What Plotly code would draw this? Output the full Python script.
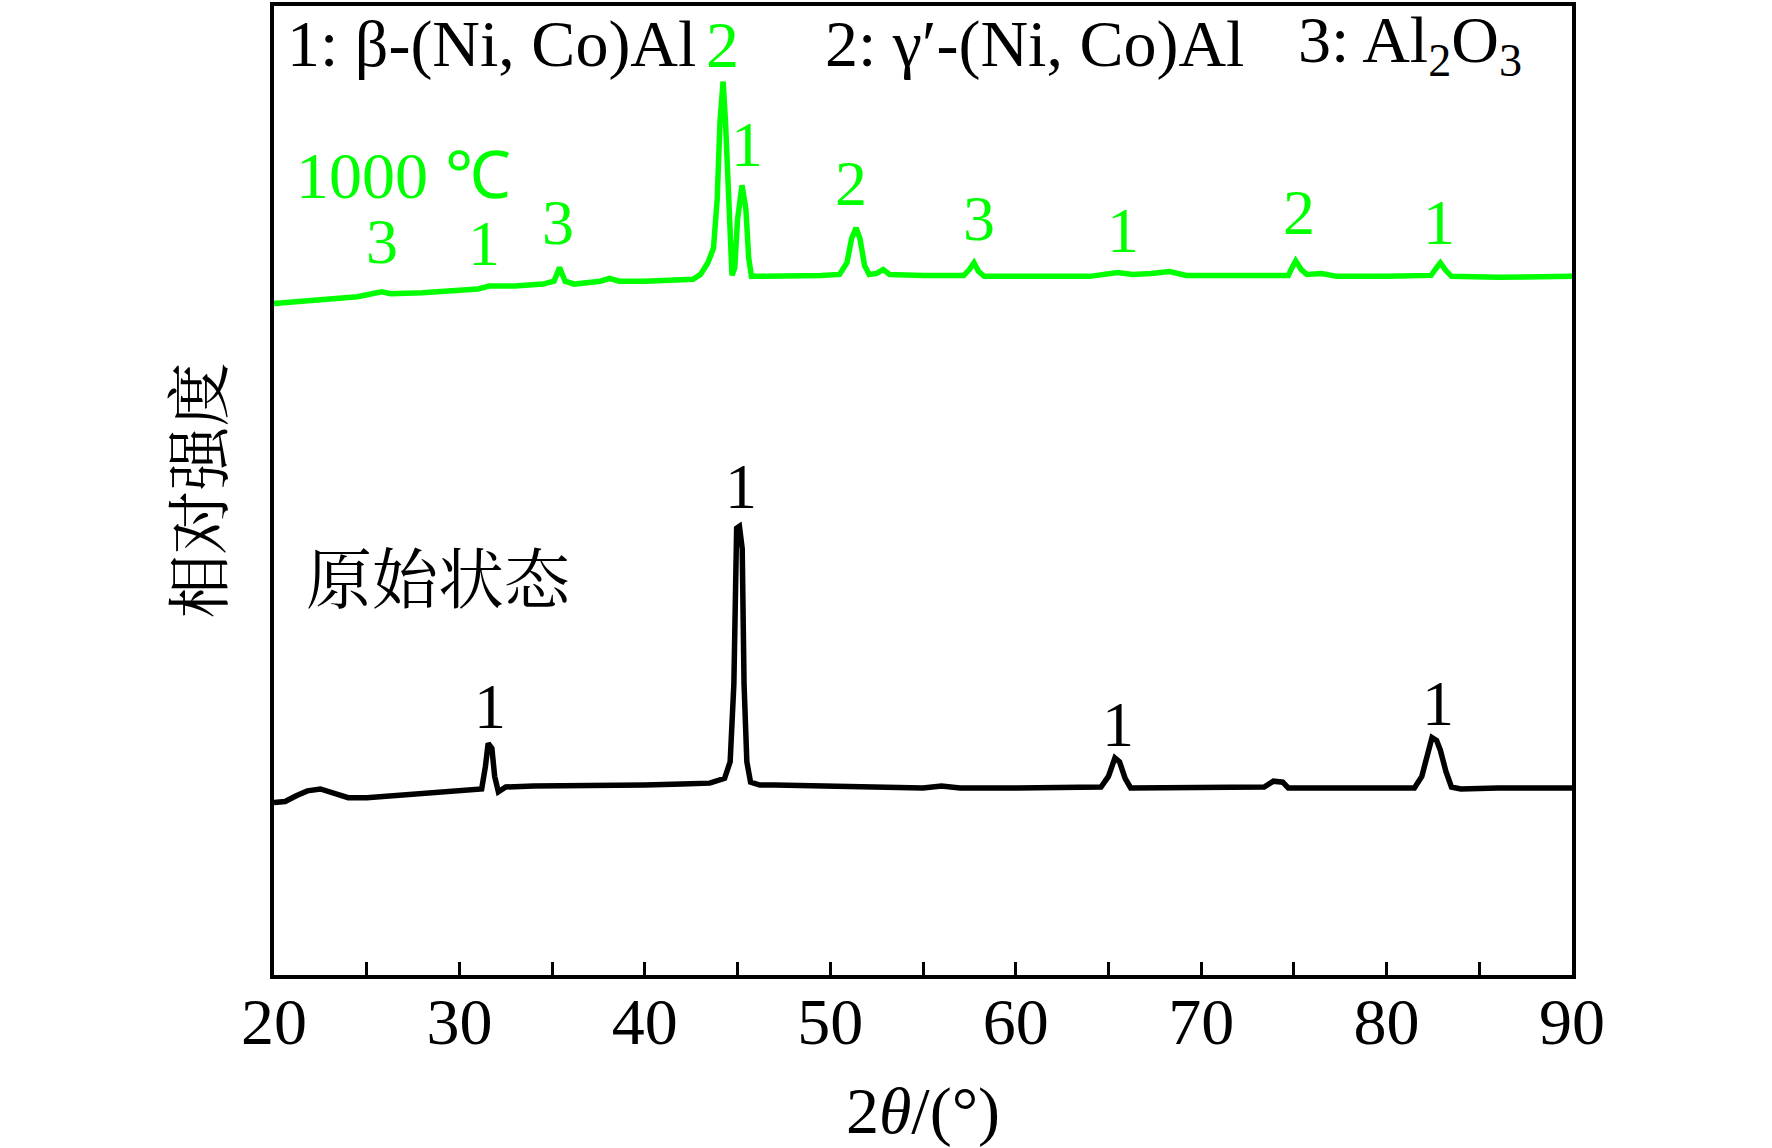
import plotly.graph_objects as go

# XRD patterns (arbitrary intensity units, 0-100 plot scale)
theta_raw = [20.0, 20.6, 21.2, 21.8, 22.5, 23.2, 24.0, 25.0, 26.5, 28.0, 29.5, 30.8,
             31.2, 31.4, 31.55, 31.75, 31.9, 32.1, 32.5, 34.0, 36.0, 38.0, 40.0, 42.0,
             43.5, 44.3, 44.6, 44.8, 44.95, 45.1, 45.25, 45.35, 45.5, 45.7, 46.2, 47.0,
             49.0, 52.0, 55.0, 56.0, 57.0, 60.0, 63.0, 64.6, 65.0, 65.35, 65.6, 65.9,
             66.2, 68.0, 70.0, 73.4, 73.9, 74.4, 74.7, 78.0, 81.5, 81.9, 82.2, 82.45,
             82.7, 82.9, 83.2, 83.5, 84.0, 86.0, 90.0]
int_raw = [17.8, 17.9, 18.5, 19.0, 19.2, 18.8, 18.3, 18.3, 18.5, 18.7, 18.9, 19.1,
           19.2, 21.5, 23.9, 23.4, 20.5, 18.9, 19.4, 19.5, 19.5, 19.6, 19.6, 19.7,
           19.8, 20.3, 22.0, 30.0, 46.1, 46.3, 44.0, 30.0, 22.0, 19.9, 19.6, 19.6,
           19.5, 19.4, 19.3, 19.5, 19.3, 19.3, 19.3, 19.4, 20.5, 22.4, 22.0, 20.3,
           19.3, 19.3, 19.3, 19.4, 20.0, 19.9, 19.3, 19.3, 19.3, 20.5, 23.0, 24.5,
           24.2, 23.2, 21.0, 19.4, 19.2, 19.3, 19.3]

theta_1000 = [20.0, 21.5, 23.0, 24.5, 25.8, 26.3, 28.0, 29.5, 31.0, 31.6, 33.0, 34.5,
              35.1, 35.4, 35.7, 36.2, 37.6, 38.1, 38.6, 40.0, 41.5, 42.6, 43.0, 43.4,
              43.7, 43.9, 44.05, 44.22, 44.35, 44.5, 44.6, 44.7, 44.85, 45.0, 45.24, 45.45,
              45.6, 45.75, 46.5, 48.0, 49.5, 50.5, 50.9, 51.15, 51.39, 51.6, 51.85, 52.1,
              52.5, 52.85, 53.2, 55.0, 57.2, 57.5, 57.75, 58.0, 58.3, 61.0, 64.0, 65.5,
              66.3, 67.3, 68.3, 69.2, 72.0, 74.7, 74.9, 75.1, 75.4, 75.7, 76.5, 77.3,
              80.0, 82.4, 82.7, 82.9, 83.2, 83.5, 86.0, 90.0]
int_1000 = [69.3, 69.5, 69.8, 70.0, 70.5, 70.3, 70.4, 70.6, 70.8, 71.1, 71.1, 71.3,
            71.6, 73.0, 71.6, 71.3, 71.6, 71.9, 71.6, 71.6, 71.7, 71.8, 72.3, 73.5,
            75.0, 80.0, 88.0, 92.2, 88.0, 80.0, 74.0, 72.2, 73.0, 78.0, 81.5, 79.0,
            74.0, 72.1, 72.1, 72.1, 72.2, 72.3, 73.5, 76.0, 77.1, 76.0, 73.2, 72.3,
            72.4, 72.8, 72.3, 72.2, 72.2, 72.8, 73.5, 72.6, 72.1, 72.1, 72.1, 72.5,
            72.3, 72.4, 72.6, 72.2, 72.2, 72.2, 73.0, 73.7, 72.8, 72.3, 72.4, 72.1,
            72.1, 72.2, 73.0, 73.5, 72.7, 72.1, 72.0, 72.1]

# peak labels: (2theta, height, text)
peaks_1000 = [(25.83, 75.7, "3"), (31.33, 75.5, "1"), (35.32, 77.7, "3"),
              (45.51, 85.7, "1"), (51.12, 81.7, "2"), (58.03, 78.1, "3"),
              (65.79, 76.8, "1"), (75.29, 78.7, "2"), (82.84, 77.7, "1")]
peaks_raw = [(31.65, 27.7, "1"), (45.19, 50.45, "1"), (65.52, 25.85, "1"), (82.78, 28.05, "1")]

xtick_vals = [20, 30, 40, 50, 60, 70, 80, 90]
xtick_text = ["20", "30", "40", "50", "60", "70", "80", "90"]

GREEN = "#00ff00"
SERIF = "Liberation Serif, Times New Roman, serif"
CJK = "Noto Serif CJK SC, Noto Sans CJK SC"

fig = go.Figure()
fig.add_trace(go.Scatter(x=theta_raw, y=int_raw, mode="lines",
                         line=dict(color="black", width=5.5), name="原始状态"))
fig.add_trace(go.Scatter(x=theta_1000, y=int_1000, mode="lines",
                         line=dict(color=GREEN, width=5.5), name="1000 ℃"))

ann = []
for x, y, t in peaks_1000:
    ann.append(dict(x=x, y=y, text=t, font=dict(color=GREEN, size=64)))
for x, y, t in peaks_raw:
    ann.append(dict(x=x, y=y, text=t, font=dict(color="black", size=64)))

# phase legend along the top
ann.append(dict(x=20.6, y=96.05, text="1: β-(Ni, Co)Al", xanchor="left",
                font=dict(color="black", size=66)))
ann.append(dict(x=44.2, y=96.05, text="2", font=dict(color=GREEN, size=66)))
ann.append(dict(x=49.6, y=96.05, text="2: γ′-(Ni, Co)Al", xanchor="left",
                font=dict(color="black", size=66)))
ann.append(dict(x=75.1, y=96.05, text="3: Al<sub>2</sub>O<sub>3</sub>", xanchor="left",
                font=dict(color="black", size=66)))

ann.append(dict(x=27.0, y=82.55, text="1000 ℃", font=dict(color=GREEN, size=66)))
ann.append(dict(x=28.9, y=41.35, text="原始状态",
                font=dict(color="black", size=66, family=CJK)))

for a in ann:
    a.setdefault("xref", "x")
    a.setdefault("yref", "y")
    a.setdefault("showarrow", False)
    a["font"].setdefault("family", SERIF)

fig.update_layout(
    width=1772, height=1148,
    margin=dict(l=274, r=200, t=2, b=173),
    plot_bgcolor="white", paper_bgcolor="white",
    showlegend=False,
    annotations=ann,
    font=dict(family=SERIF, color="black"),
)
fig.update_xaxes(
    range=[20, 90], tickvals=xtick_vals, ticktext=xtick_text,
    ticks="inside", ticklen=13, tickwidth=3, tickcolor="black",
    minor=dict(dtick=5, tick0=20, ticks="inside", ticklen=13, tickwidth=3, tickcolor="black"),
    showline=True, linewidth=4, linecolor="black", mirror=True,
    showgrid=False, zeroline=False,
    tickfont=dict(family=SERIF, size=66),
    ticklabelstandoff=-14,
    title=dict(text="2<i>θ</i>/(°)", font=dict(family=SERIF, size=66), standoff=37),
)
fig.update_yaxes(
    range=[0, 100], showticklabels=False, ticks="",
    showline=True, linewidth=4, linecolor="black", mirror=True,
    showgrid=False, zeroline=False,
    title=dict(text="相对强度", font=dict(family=CJK, size=64), standoff=28),
)

# drop the browser's default 8px body margin so the figure sits at the page corner
fig.write_html("out.html", config={"displayModeBar": False},
               post_script="document.body.style.margin='0';")
